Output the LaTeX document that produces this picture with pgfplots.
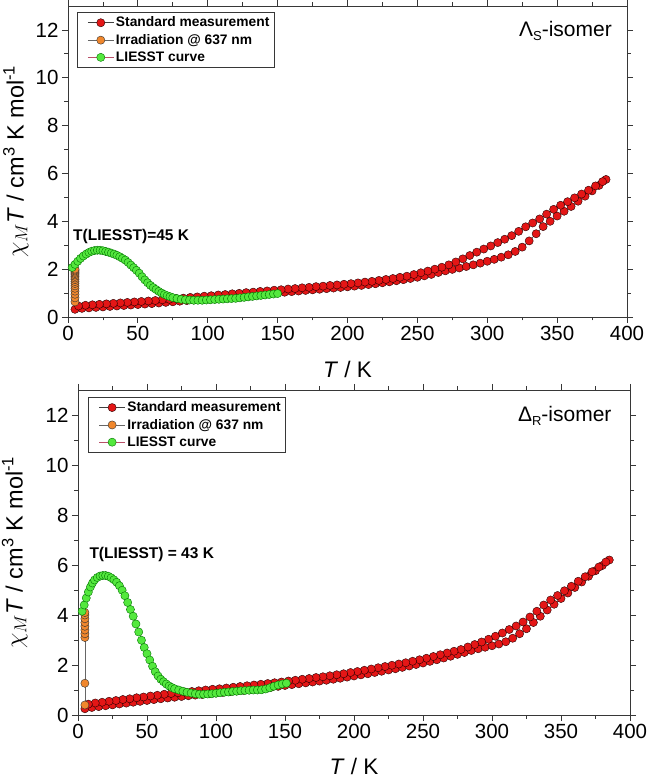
\documentclass[border=0pt]{standalone}
\usepackage{fontspec}
\setmainfont{Liberation Sans}
\usepackage{pgfplots}
\pgfplotsset{compat=1.18}
\definecolor{redM}{RGB}{228,22,22}
\definecolor{greenM}{RGB}{84,232,62}
\definecolor{orangeM}{RGB}{240,135,45}
\definecolor{axc}{RGB}{55,55,55}
\pgfplotsset{
 myaxis/.style={
  scale only axis,
  xmin=0,xmax=400,ymin=0,ymax=13,
  xtick={0,50,...,400}, ytick={0,2,...,12},
  minor x tick num=1, minor y tick num=1,
  tick align=outside, tick pos=both,
  xticklabel pos=lower, yticklabel pos=left,
  major tick length=6pt, minor tick length=3.5pt,
  axis line style={axc, line width=0.8pt},
  every tick/.append style={axc, line width=0.8pt},
  every minor tick/.append style={axc, line width=0.8pt},
  /pgf/number format/assume math mode=true,
  ticklabel style={font=\fontsize{20.5}{21}\selectfont},
  x label style={font=\fontsize{22.5}{23}\selectfont},
  y label style={font=\fontsize{23.5}{24}\selectfont},
  legend cell align=left,
  legend image code/.code={\path[draw=none,fill=none,mark=none] (0pt,-1pt) rectangle (34pt,1pt); \draw[mark repeat=2,mark phase=2,#1] plot coordinates {(7pt,0pt) (20pt,0pt) (33pt,0pt)};},
  legend style={draw=axc, line width=0.6pt, fill=white, font=\bfseries\fontsize{13.8}{14}\selectfont, inner sep=3.5pt, row sep=3.5pt, nodes={inner sep=1.2pt}},
 },
 redS/.style={color=black!75, line width=0.5pt, mark=*, mark size=4.1pt, mark options={fill=redM, draw=black!85!red, line width=0.4pt}},
 orS/.style={color=black!60, line width=0.5pt, mark=*, mark size=4.1pt, mark options={fill=orangeM, draw=black!80, line width=0.4pt}},
 grS/.style={color={rgb,255:red,185;green,80;blue,105}, line width=0.5pt, mark=*, mark size=4.1pt, mark options={fill=greenM, draw=black!55!green, line width=0.4pt}},
}
\begin{document}
\begin{tikzpicture}
% ---------------- top panel ----------------
\begin{axis}[myaxis, at={(68pt,463pt)}, anchor=south west, width=559pt, height=311pt,
  xlabel={\textit{T} / K},
  ylabel={$\chi_{M}$\textit{T} / cm\textsuperscript{3} K mol\textsuperscript{-1}},
  x label style={at={(axis description cs:0.5,-0.196)}, anchor=base},
  y label style={at={(axis description cs:-0.0795,0.5)}, anchor=base},
  legend style={at={(axis description cs:0.0161,0.9807)}, anchor=north west}]
\addplot[redS] coordinates {
(5,0.32) (10,0.36) (15,0.38) (20,0.40) (25,0.42) (30,0.44) (35,0.46) (40,0.48) (45,0.50) (50,0.52)
(55,0.54) (60,0.56) (65,0.585) (70,0.61) (75,0.635) (80,0.66) (85,0.685) (90,0.71) (95,0.735) (100,0.76)
(105,0.785) (110,0.81) (115,0.835) (120,0.86) (125,0.885) (130,0.91) (135,0.935) (140,0.96) (145,0.985) (150,1.01)
(155,1.035) (160,1.06) (165,1.085) (170,1.11) (175,1.135) (180,1.16) (185,1.185) (190,1.21) (195,1.235) (200,1.26)
(205,1.29) (210,1.32) (215,1.355) (220,1.39) (225,1.43) (230,1.47) (235,1.515) (240,1.56) (245,1.61) (250,1.66)
(255,1.72) (260,1.78) (265,1.86) (270,1.93) (275,1.99) (280,2.05) (285,2.11) (290,2.18) (295,2.25) (300,2.33)
(305,2.41) (310,2.5) (315,2.6) (320,2.74) (325,2.92) (330,3.18) (335,3.48) (340,3.78) (345,4.0) (350,4.22)
(355,4.42) (360,4.62) (365,4.84) (370,5.05) (375,5.27) (380,5.5) (385,5.75)
(382.5,5.66) (377.5,5.48) (372.5,5.3) (367.5,5.14) (362.5,4.98) (357.5,4.82) (352.5,4.67) (347.5,4.5) (342.5,4.3) (337.5,4.1)
(332.5,3.93) (327.5,3.77) (322.5,3.58) (317.5,3.4) (312.5,3.25) (307.5,3.11) (302.5,2.97) (297.5,2.84) (292.5,2.71) (287.5,2.57)
(282.5,2.43) (277.5,2.3) (272.5,2.18) (267.5,2.08) (262.5,2.0) (257.5,1.92) (252.5,1.85) (247.5,1.775) (242.5,1.705) (237.5,1.66)
(232.5,1.61) (227.5,1.57) (222.5,1.53) (217.5,1.49) (212.5,1.46) (207.5,1.425) (202.5,1.395) (197.5,1.37) (192.5,1.34) (187.5,1.32)
(182.5,1.29) (177.5,1.27) (172.5,1.24) (167.5,1.22) (162.5,1.19) (157.5,1.17) (152.5,1.14) (147.5,1.12) (142.5,1.09) (137.5,1.07)
(132.5,1.04) (127.5,1.02) (122.5,0.99) (117.5,0.97) (112.5,0.94) (107.5,0.92) (102.5,0.89) (97.5,0.87) (92.5,0.84) (87.5,0.82)
(82.5,0.79) (77.5,0.77) (72.5,0.74) (67.5,0.72) (62.5,0.69) (57.5,0.67) (52.5,0.65) (47.5,0.63) (42.5,0.61) (37.5,0.59)
(32.5,0.57) (27.5,0.55) (22.5,0.53) (17.5,0.51) (12.5,0.49) (7.5,0.46)
};
\addlegendentry{Standard measurement}
\addplot[orS] coordinates {
(5,0.63) (5,0.8) (5,0.95) (5,1.08) (5,1.2) (5,1.3) (5,1.4) (5,1.48) (5,1.56) (5,1.63) (5,1.7) (5,1.76) (5,1.82) (5,1.87) (5,1.92) (5,1.96) (5,2.0)
};
\addlegendentry{Irradiation @ 637 nm}
\addplot[grS] coordinates {
(3,2.07) (5,2.2) (7,2.33) (9,2.45) (11,2.55) (13,2.63) (15,2.7) (17,2.75) (19,2.78) (21,2.79)
(23,2.79) (25,2.77) (27,2.74) (29,2.71) (31,2.67) (33,2.63) (35,2.58) (37,2.52) (39,2.45) (41,2.38)
(43,2.28) (45,2.17) (47,2.06) (49,1.95) (51,1.83) (53,1.68) (55,1.55) (57,1.43) (59,1.32) (61,1.23)
(63,1.15) (65,1.07) (67,1.0) (69,0.94) (71,0.89) (73,0.85) (75,0.81) (78,0.77) (81,0.74) (84,0.72)
(87,0.71) (90,0.70) (93,0.70) (96,0.70) (99,0.71) (102,0.72) (105,0.73) (108,0.74) (111,0.75) (114,0.76)
(117,0.77) (120,0.78) (123,0.80) (126,0.82) (129,0.84) (132,0.86) (135,0.88) (138,0.90) (141,0.92) (144,0.94)
(147,0.96) (150,0.98)
};
\addlegendentry{LIESST curve}
\node[anchor=base west, inner sep=0pt, font=\bfseries\fontsize{15.5}{16}\selectfont] at (axis cs:3.6,3.21) {T(LIESST)=45 K};
\node[anchor=base east, inner sep=0pt, font=\fontsize{21}{21}\selectfont] at (axis description cs:0.9732,0.9035) {Λ\raisebox{-4pt}{\fontsize{13}{13}\selectfont S}-isomer};
\end{axis}
% ---------------- bottom panel ----------------
\begin{axis}[myaxis, at={(78pt,65pt)}, anchor=south west, width=552pt, height=325pt,
  xlabel={\textit{T} / K},
  ylabel={$\chi_{M}$\textit{T} / cm\textsuperscript{3} K mol\textsuperscript{-1}},
  x label style={at={(axis description cs:0.5,-0.183)}, anchor=base},
  y label style={at={(axis description cs:-0.1005,0.5)}, anchor=base},
  legend style={at={(axis description cs:0.0187,0.979)}, anchor=north west}]
\addplot[redS] coordinates {
(5,0.25) (10,0.30) (15,0.335) (20,0.37) (25,0.405) (30,0.44) (35,0.475) (40,0.51) (45,0.545) (50,0.58)
(55,0.615) (60,0.65) (65,0.68) (70,0.71) (75,0.74) (80,0.77) (85,0.795) (90,0.82) (95,0.85) (100,0.88)
(105,0.905) (110,0.93) (115,0.96) (120,0.99) (125,1.02) (130,1.05) (135,1.08) (140,1.11) (145,1.145) (150,1.18)
(155,1.215) (160,1.25) (165,1.285) (170,1.32) (175,1.355) (180,1.39) (185,1.43) (190,1.47) (195,1.515) (200,1.56)
(205,1.605) (210,1.65) (215,1.7) (220,1.75) (225,1.8) (230,1.85) (235,1.905) (240,1.96) (245,2.02) (250,2.08)
(255,2.145) (260,2.21) (265,2.28) (270,2.35) (275,2.425) (280,2.5) (285,2.58) (290,2.65) (295,2.71) (300,2.77)
(305,2.84) (310,2.93) (315,3.07) (320,3.25) (325,3.45) (330,3.7) (335,3.95) (340,4.2) (345,4.43) (350,4.66)
(355,4.88) (360,5.1) (365,5.32) (370,5.55) (375,5.77) (380,5.98) (385,6.2)
(382.5,6.12) (377.5,5.92) (372.5,5.73) (367.5,5.53) (362.5,5.35) (357.5,5.15) (352.5,4.97) (347.5,4.78) (342.5,4.6) (337.5,4.4)
(332.5,4.15) (327.5,3.92) (322.5,3.72) (317.5,3.56) (312.5,3.42) (307.5,3.28) (302.5,3.15) (297.5,3.03) (292.5,2.92) (287.5,2.82)
(282.5,2.72) (277.5,2.62) (272.5,2.55) (267.5,2.48) (262.5,2.41) (257.5,2.34) (252.5,2.27) (247.5,2.21) (242.5,2.15) (237.5,2.09)
(232.5,2.04) (227.5,1.99) (222.5,1.94) (217.5,1.89) (212.5,1.84) (207.5,1.79) (202.5,1.74) (197.5,1.7) (192.5,1.65) (187.5,1.61)
(182.5,1.57) (177.5,1.53) (172.5,1.5) (167.5,1.46) (162.5,1.43) (157.5,1.39) (152.5,1.36) (147.5,1.32) (142.5,1.29) (137.5,1.26)
(132.5,1.23) (127.5,1.2) (122.5,1.17) (117.5,1.14) (112.5,1.11) (107.5,1.08) (102.5,1.05) (97.5,1.03) (92.5,1.0) (87.5,0.97)
(82.5,0.94) (77.5,0.92) (72.5,0.89) (67.5,0.86) (62.5,0.83) (57.5,0.79) (52.5,0.76) (47.5,0.72) (42.5,0.69) (37.5,0.65)
(32.5,0.62) (27.5,0.58) (22.5,0.55) (17.5,0.51) (12.5,0.48) (7.5,0.435)
};
\addlegendentry{Standard measurement}
\addplot[orS] coordinates {
(5,0.4) (5,1.27) (5,3.1) (5,3.25) (5,3.4) (5,3.55) (5,3.7) (5,3.85) (5,4.0) (5,4.1)
};
\addlegendentry{Irradiation @ 637 nm}
\addplot[grS] coordinates {
(3,4.15) (4.5,4.4) (6,4.68) (7.5,4.92) (9,5.12) (10.5,5.28) (12,5.4) (14,5.5) (16,5.56) (18,5.58)
(20,5.58) (22,5.55) (24,5.49) (26,5.41) (28,5.31) (30,5.17) (32,4.99) (34,4.77) (36,4.5) (38,4.22)
(40,3.95) (42,3.64) (44,3.32) (46,2.99) (48,2.7) (50,2.45) (52,2.2) (54,1.95) (56,1.73) (58,1.56)
(60,1.43) (62,1.33) (64,1.24) (66,1.16) (68,1.1) (70,1.05) (73,1.0) (76,0.95) (79,0.91) (82,0.88)
(85,0.85) (88,0.83) (91,0.83) (94,0.84) (97,0.85) (100,0.87) (103,0.89) (106,0.91) (109,0.92) (112,0.94)
(115,0.95) (118,0.97) (121,0.98) (124,0.99) (127,1.0) (130,1.0) (133,1.01) (136,1.04) (139,1.09) (142,1.15)
(145,1.2) (148,1.24) (151,1.27)
};
\addlegendentry{LIESST curve}
\node[anchor=base west, inner sep=0pt, font=\bfseries\fontsize{15.5}{16}\selectfont] at (axis cs:8.2,6.25) {T(LIESST) = 43 K};
\node[anchor=base east, inner sep=0pt, font=\fontsize{21}{21}\selectfont] at (axis description cs:0.9668,0.9025) {Δ\raisebox{-4pt}{\fontsize{13}{13}\selectfont R}-isomer};
\end{axis}
\pgfresetboundingbox
\path[use as bounding box] (0,0) rectangle (646pt,780pt);
\end{tikzpicture}
\end{document}
